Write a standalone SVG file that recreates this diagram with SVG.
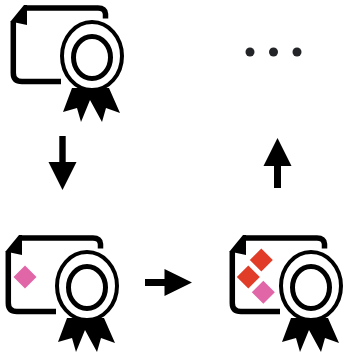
<svg xmlns="http://www.w3.org/2000/svg" width="347" height="352" viewBox="0 0 347 352">
<style>
.k{fill:#000}
.line{fill:none;stroke:#000;stroke-width:5.500}
.ring{fill:#fff;stroke:#000}
.pink{fill:#e066a8}
.red{fill:#e03c28}
.dot{fill:#222428}
</style>
<defs>
<g id="cert">
<path class="k" d="M24 5H27V25L10.500 21.500Z"/>
<path class="line" d="M13.300 21V73Q13.300 81.500 22 81.500H61M25 8H98Q105 8 105.500 14V18.500"/>
<path class="k" d="M72 88L63 112L77 108L81 122L90 100L102 122L106 108L120 113L109 88Z"/>
<ellipse class="ring" cx="92" cy="56" rx="30" ry="34" stroke-width="4"/>
<ellipse class="ring" cx="92" cy="57.500" rx="18.500" ry="21" stroke-width="5"/>
</g>
</defs>
<g id="node-cert-1"><use href="#cert"/></g>
<g id="node-cert-2"><use href="#cert" x="-5" y="230"/><path class="pink" d="M25 265.500L36.500 277L25 288.500L13.500 277Z"/></g>
<g id="node-cert-3"><use href="#cert" x="219" y="230"/>
<path class="red" d="M261.300 248.500L272.800 260L261.300 271.500L249.800 260Z"/>
<path class="red" d="M248.300 265.500L259.800 277L248.300 288.500L236.800 277Z"/>
<path class="pink" d="M263.300 280.800L274.800 292.300L263.300 303.800L251.800 292.300Z"/></g>
<g id="node-ellipsis"><circle class="dot" cx="250" cy="52" r="4.500"/><circle class="dot" cx="273.500" cy="52" r="4.500"/><circle class="dot" cx="297" cy="52" r="4.500"/></g>
<g id="connectors">
<path class="k" d="M59.300 136H65.700V162H76.500L62.500 190L48.500 162H59.300Z"/>
<path class="k" d="M145 279H164.500V269L192 282.500L164.500 296V286H145Z"/>
<path class="k" d="M274 188V166H263.500L277.500 138L291.500 166H281V188Z"/>
</g>
</svg>
